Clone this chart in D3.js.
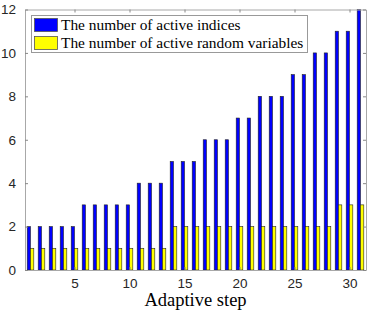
<!DOCTYPE html>
<html>
<head>
<meta charset="utf-8">
<script src="https://cdn.jsdelivr.net/npm/d3@7"></script>
<style>
  body { margin: 0; background: #fff; }
  svg { display: block; }
</style>
</head>
<body>
<svg></svg>
<script>
const steps = d3.range(1, 32);
const activeIndices = [2, 2, 2, 2, 2, 3, 3, 3, 3, 3, 4, 4, 4, 5, 5, 5, 6, 6, 6, 7, 7, 8, 8, 8, 9, 9, 10, 10, 11, 11, 12];
const activeRandomVars = [1, 1, 1, 1, 1, 1, 1, 1, 1, 1, 1, 1, 1, 2, 2, 2, 2, 2, 2, 2, 2, 2, 2, 2, 2, 2, 2, 2, 3, 3, 3];
const seriesNames = ["The number of active indices", "The number of active random variables"];
const seriesColors = ["#0000ff", "#ffff00"];
const xTicks = [5, 10, 15, 20, 25, 30];
const yTicks = [0, 2, 4, 6, 8, 10, 12];

const W = 374, H = 315;
const box = { left: 25, right: 366, top: 9.5, bottom: 270 };

const svg = d3.select("svg").attr("width", W).attr("height", H);

const x = d3.scaleLinear().domain([0.5, 31.5]).range([box.left, box.right]);
const y = d3.scaleLinear().domain([0, 12]).range([box.bottom, box.top]);

const bw = 0.3; // bar width in step units
const series = [activeIndices, activeRandomVars];

// bars
series.forEach((vals, si) => {
  svg.append("g")
    .selectAll("rect")
    .data(steps)
    .join("rect")
    .attr("x", d => x(si === 0 ? d - bw : d))
    .attr("width", x(bw) - x(0))
    .attr("y", (d, i) => y(vals[i]))
    .attr("height", (d, i) => y(0) - y(vals[i]))
    .attr("fill", seriesColors[si])
    .attr("stroke", "#222")
    .attr("stroke-width", 0.6);
});

// axes (MATLAB box style, inward ticks)
const axisColor = "#a8a8a8";
const font = "'Liberation Sans', Arial, sans-serif";

const gx = svg.append("g")
  .attr("transform", `translate(0,${box.bottom})`)
  .call(d3.axisBottom(x).tickValues(xTicks).tickSizeInner(-3).tickSizeOuter(0).tickPadding(8));
const gxTop = svg.append("g")
  .attr("transform", `translate(0,${box.top})`)
  .call(d3.axisTop(x).tickValues(xTicks).tickSizeInner(-3).tickSizeOuter(0).tickFormat(""));
const gy = svg.append("g")
  .attr("transform", `translate(${box.left},0)`)
  .call(d3.axisLeft(y).tickValues(yTicks).tickSizeInner(-3).tickSizeOuter(0).tickPadding(9));
const gyRight = svg.append("g")
  .attr("transform", `translate(${box.right},0)`)
  .call(d3.axisRight(y).tickValues(yTicks).tickSizeInner(-3).tickSizeOuter(0).tickFormat(""));

[gx, gxTop, gy, gyRight].forEach(g => {
  g.select(".domain").attr("stroke", axisColor).attr("stroke-width", 1);
  g.selectAll(".tick line").attr("stroke", "#888");
  g.selectAll(".tick text")
    .attr("fill", "#262626")
    .style("font-family", font)
    .style("font-size", "13.5px");
});

// x label
svg.append("text")
  .attr("x", (box.left + box.right) / 2)
  .attr("y", 306)
  .attr("text-anchor", "middle")
  .attr("fill", "#000")
  .style("font-family", "'Liberation Serif', 'Times New Roman', serif")
  .style("font-size", "18.5px")
  .text("Adaptive step");

// legend
const lg = svg.append("g");
lg.append("rect")
  .attr("x", 31.5).attr("y", 15.5)
  .attr("width", 276).attr("height", 37)
  .attr("fill", "#fff")
  .attr("stroke", "#999")
  .attr("stroke-width", 1);

seriesNames.forEach((name, i) => {
  const yy = 18 + i * 18;
  lg.append("rect")
    .attr("x", 34.5).attr("y", yy + 0.5)
    .attr("width", 23).attr("height", 13)
    .attr("fill", seriesColors[i])
    .attr("stroke", "#555")
    .attr("stroke-width", 0.8);
  lg.append("text")
    .attr("x", 61)
    .attr("y", yy + 11.5)
    .attr("fill", "#000")
    .style("font-family", "'Liberation Serif', 'Times New Roman', serif")
    .style("font-size", "15.4px")
    .text(name);
});
</script>
</body>
</html>
